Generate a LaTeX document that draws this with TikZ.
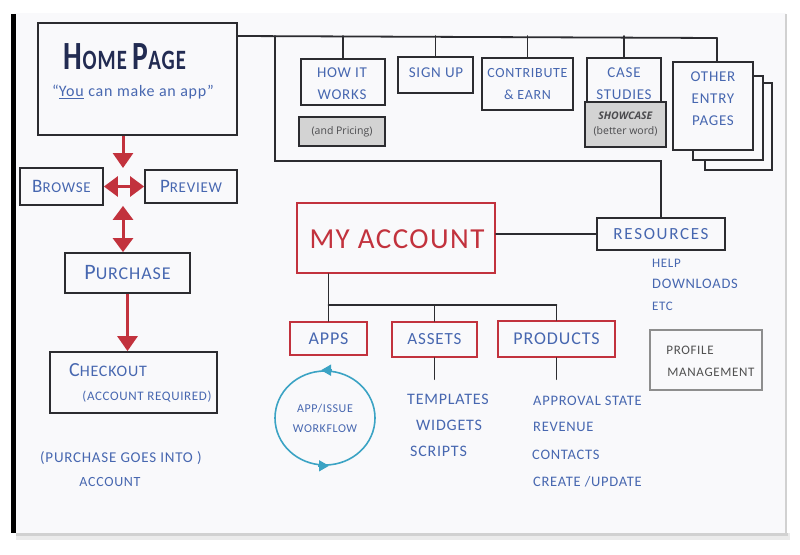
\documentclass[tikz,border=0pt]{standalone}
\usepackage{fontspec}
\usepackage{graphicx}
\newfontfamily\handfont{Carlito}[LetterSpace=5]
\newfontfamily\notefont{Open Sans}
\usetikzlibrary{arrows.meta,fit,shapes.geometric}

\definecolor{ink}{HTML}{2C2C30}
\definecolor{penblue}{HTML}{4767B0}
\definecolor{navy}{HTML}{222B52}
\definecolor{marker}{HTML}{C2323D}
\definecolor{flowteal}{HTML}{3BA3C4}
\definecolor{pencil}{HTML}{8E8E8E}
\definecolor{penciltext}{HTML}{505050}
\definecolor{note}{HTML}{D3D3D3}
\definecolor{paper}{HTML}{F9F9FB}

% bigger initial letter, as in hand lettering
\newcommand\Ini[2]{{\fontsize{#1}{22}\selectfont #2}}

\begin{document}
\begin{tikzpicture}[x=1pt,y=-1pt,
  wire/.style={draw=ink,line width=1.8pt,line cap=round},
  inkbox/.style={draw=ink,line width=1.8pt,inner sep=0pt,fill=paper},
  redbox/.style={draw=marker,line width=2.2pt,inner sep=0pt,fill=paper},
  notebox/.style={draw=ink,line width=1.2pt,fill=note,inner sep=0pt},
  notetext/.style={inner sep=0pt,align=center,text=ink!85,font=\notefont\fontsize{10.5}{15}\selectfont},
  handtext/.style={text=penblue,font=\handfont\fontsize{#1}{22}\selectfont,inner sep=0pt,align=center},
  handtext/.default=15,
  redarrow/.style={draw=marker,line width=3pt,-{Triangle[width=20pt,length=15pt]}},
  redboth/.style={draw=marker,line width=3pt,
    {Triangle[width=20pt,length=14pt]}-{Triangle[width=20pt,length=14pt]}},
]
% sheet of paper
\fill[white] (0,0) rectangle (800,554);
\useasboundingbox (0,0) rectangle (800,554);
\fill[black!8] (16,533) rectangle (790,540);
\fill[black!18] (16,533) rectangle (788,536);
\fill[paper] (14,13) rectangle (786,533);
\draw[black!18,line width=1.2pt] (786,14) -- (786,533);
\fill[black] (11,14) rectangle (16,533);

% ---------- home page and top-level pages ----------
\node[inkbox,fit={(38,23) (237,135)}] (home) {};
\node[text=navy,font=\handfont\bfseries,inner sep=0pt] (homeT) at (125,57)
  {\scalebox{0.74}[1]{\fontsize{40}{40}\selectfont H\fontsize{28}{28}\selectfont OME
   \fontsize{40}{40}\selectfont P\fontsize{28}{28}\selectfont AGE}};
\node[handtext=16] (homeS) at (133,92) {“\underline{You} can make an app”};

\coordinate (busW) at (237,36);
\coordinate (busE) at (717,38);
\draw[wire] (busW) -- (busE);

\node[inkbox,fit={(301,59) (385,105)}] (how) {};
\node[handtext] (howL) at (342,84) {HOW IT\\WORKS};
\node[notebox,fit={(299,117) (385,146)}] (pricing) {};
\node[notetext] (pricingL) at (pricing) {(and Pricing)};
\node[inkbox,fit={(398,57) (473,93)}] (signup) {};
\node[handtext] (signupL) at (436,73) {SIGN UP};
\node[inkbox,fit={(482,58) (573,110)}] (contrib) {};
\node[handtext=14] (contribL) at (contrib) {CONTRIBUTE\\\& EARN};
\node[inkbox,fit={(587,58) (661,106)}] (case) {};
\node[handtext] (caseL) at (624,84) {CASE\\STUDIES};
\node[notebox,fit={(585,102) (666,147)}] (showcase) {};
\node[notetext] (showcaseL) at (showcase) {\textbf{\textit{SHOWCASE}}\\(better word)};

\node[inkbox,fit={(705,83) (772,170)}] (other3) {};
\node[inkbox,fit={(693,76) (763,160)}] (other2) {};
\node[inkbox,fit={(673,62) (753,150)}] (other) {};
\node[handtext] (otherL) at (713,99) {OTHER\\ENTRY\\PAGES};

\draw[wire] (how.north |- busW) -- (how.north);
\draw[wire] (signup.north |- busW) -- (signup.north);
\draw[wire] (contrib.north |- busW) -- (contrib.north);
\draw[wire] (case.north |- busW) -- (case.north);
\draw[wire] (busE) -- (busE |- other.north);

% ---------- my account ----------
\node[redbox,fit={(297,203) (495,273)}] (acct) {};
\node[text=marker,inner sep=0pt,font=\handfont\fontsize{29}{29}\selectfont] (acctL) at (397,239) {MY ACCOUNT};
\node[inkbox,fit={(597,218) (725,250)}] (res) {};
\node[handtext=17] (resL) at (res) {{\addfontfeature{LetterSpace=10}RESOURCES}};
\coordinate (frameT) at (275,36);
\coordinate (frameB) at (275,161);
\draw[wire] (frameT) -- (frameB) -- (frameB -| res.north) -- (res.north);
\draw[wire] (acct.east |- res.west) -- (res.west);

\node[handtext=13,anchor=west] (help) at (652,263) {HELP};
\node[handtext=14.5,anchor=west] (dl) at (652,284) {DOWNLOADS};
\node[handtext=13,anchor=west] (etc) at (652,306) {ETC};

\node[redbox,fit={(290,322) (367,355)}] (apps) {};
\node[handtext=18] (appsL) at (apps) {APPS};
\node[redbox,fit={(392,322) (477,357)}] (assets) {};
\node[handtext=17] (assetsL) at (assets) {ASSETS};
\node[redbox,fit={(498,321) (615,357)}] (products) {};
\node[handtext=18] (productsL) at (products) {PRODUCTS};
\coordinate (subbus) at (0,305);
\draw[wire] (apps.north |- acct.south) -- (apps.north);
\draw[wire] (apps.north |- subbus) -- (products.north |- subbus);
\draw[wire] (assets.north |- subbus) -- (assets.north);
\draw[wire] (products.north |- subbus) -- (products.north);
\draw[wire] (assets.south) -- ++(0,21);
\draw[wire] (products.south) -- ++(0,21);

\node[draw=pencil,line width=1.3pt,fit={(650,330) (762,390)},inner sep=0pt] (profile) {};
\node[handtext=13,text=penciltext] (profT) at (690,350) {PROFILE};
\node[handtext=13,text=penciltext] (profS) at (711,372) {MANAGEMENT};

% workflow loop under apps
\node[draw=flowteal,line width=1.6pt,ellipse,minimum width=100pt,minimum height=94pt,
  inner sep=0pt] (flow) at (325,418) {};
\node[handtext=12,font=\handfont\fontsize{12}{20}\selectfont] (flowL) at (flow) {APP/ISSUE\\WORKFLOW};
\draw[flowteal,line width=1.6pt,-{Triangle[width=11pt,length=10pt]}]
  ([xshift=7pt]flow.north) -- ([xshift=-4pt]flow.north);
\draw[flowteal,line width=1.6pt,-{Triangle[width=11pt,length=10pt]}]
  ([xshift=-7pt]flow.south) -- ([xshift=4pt]flow.south);

\node[handtext=16,anchor=west] (tpl) at (407,399) {TEMPLATES};
\node[handtext=16,anchor=west] (wdg) at (416,425) {WIDGETS};
\node[handtext=16,anchor=west] (scr) at (410,451) {SCRIPTS};

\node[handtext=14.5,anchor=west] (appr) at (533,401) {APPROVAL STATE};
\node[handtext=14.5,anchor=west] (rev) at (533,427) {REVENUE};
\node[handtext=14.5,anchor=west] (cont) at (532,455) {CONTACTS};
\node[handtext=14.5,anchor=west] (cru) at (533,482) {CREATE /UPDATE};

% ---------- shopping path ----------
\node[inkbox,fit={(20,168) (103,205)}] (browse) {};
\node[handtext] (browseL) at (browse) {\Ini{19}{B}ROWSE};
\node[inkbox,fit={(145,170) (237,203)}] (preview) {};
\node[handtext] (previewL) at (preview) {\Ini{19}{P}REVIEW};
\node[inkbox,fit={(65,253) (190,293)}] (purchase) {};
\node[handtext=18] (purchaseL) at (purchase) {\Ini{22}{P}URCHASE};
\node[inkbox,fit={(50,352) (217,413)}] (checkout) {};
\node[handtext=16] (coT) at (108,370) {\Ini{20}{C}HECKOUT};
\node[handtext=13] (coS) at (147,397) {(ACCOUNT REQUIRED)};

\coordinate (hub) at (123,168);
\draw[redarrow] (home.south -| hub) -- (hub);
\draw[redboth] (browse.east) -- (preview.west);
\draw[redboth] (hub |- browse.south) -- (hub |- purchase.north);
\draw[redarrow] (purchase.south) -- (purchase.south |- checkout.north);

\node[handtext=15,anchor=west] (note1) at (40,458) {(PURCHASE GOES INTO )};
\node[handtext=14] (note2) at (110,482) {ACCOUNT};
\end{tikzpicture}
\end{document}
